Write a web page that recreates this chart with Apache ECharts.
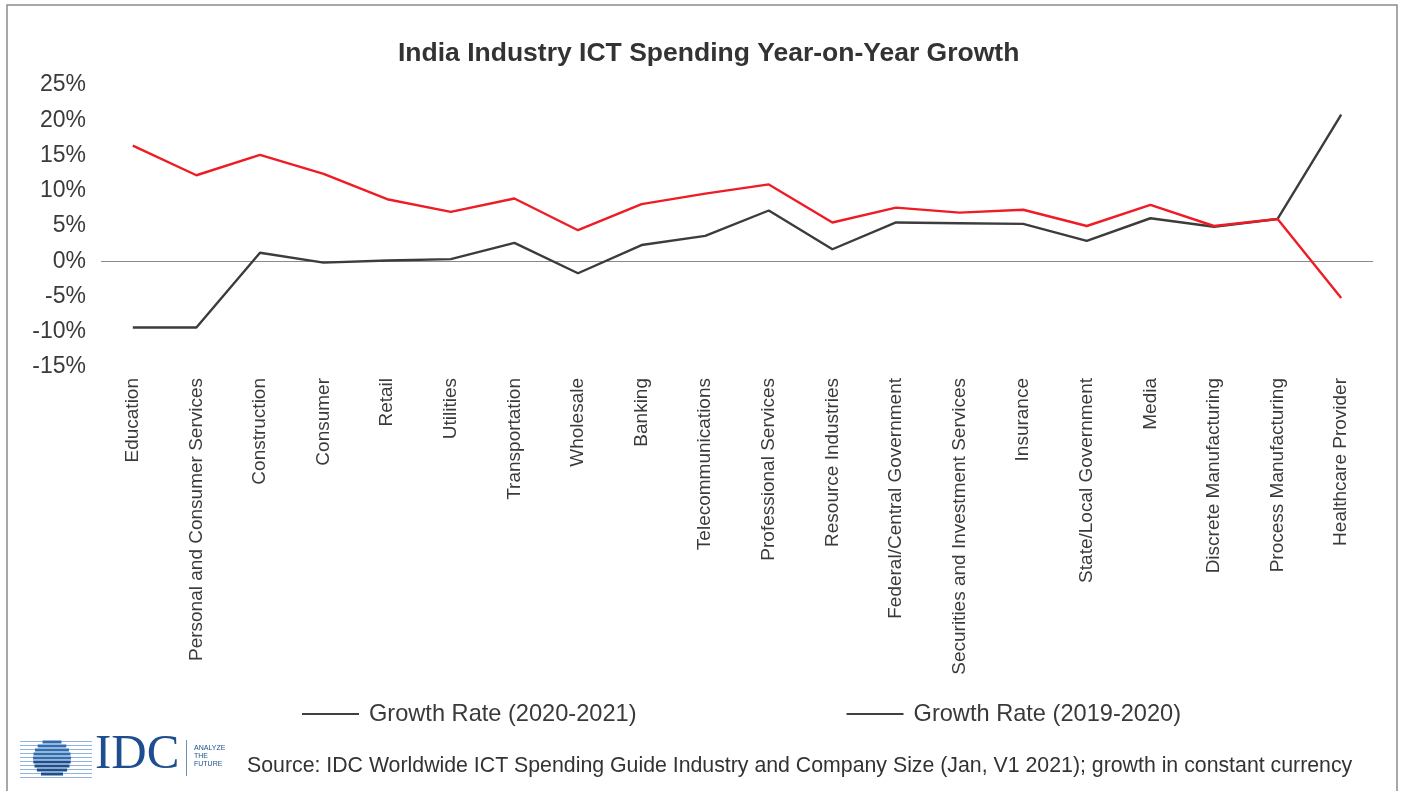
<!DOCTYPE html>
<html>
<head>
<meta charset="utf-8">
<script src="https://cdn.jsdelivr.net/npm/echarts@6/dist/echarts.min.js"></script>
<style>html,body{margin:0;padding:0;background:#fff;}#c{width:1404px;height:791px;}</style>
</head>
<body>
<div id="c"></div>
<script>
const categories = ['Education','Personal and Consumer Services','Construction','Consumer','Retail','Utilities','Transportation','Wholesale','Banking','Telecommunications','Professional Services','Resource Industries','Federal/Central Government','Securities and Investment Services','Insurance','State/Local Government','Media','Discrete Manufacturing','Process Manufacturing','Healthcare Provider'];
const growth2021 = [-9.4,-9.4,1.2,-0.2,0.1,0.3,2.6,-1.7,2.3,3.6,7.2,1.7,5.5,5.4,5.3,2.9,6.1,4.9,6.0,20.8];
const growth2020 = [16.4,12.2,15.1,12.4,8.8,7.0,8.9,4.4,8.1,9.6,10.9,5.5,7.6,6.9,7.3,5.0,8.0,5.0,6.0,-5.2];
const seriesNames = ['Growth Rate (2020-2021)','Growth Rate (2019-2020)'];
const yTicks = {min:-15, max:25, interval:5};
const titleText = 'India Industry ICT Spending Year-on-Year Growth';
const sourceText = 'Source: IDC Worldwide ICT Spending Guide Industry and Company Size (Jan, V1 2021); growth in constant currency';

const chart = echarts.init(document.getElementById('c'));
const txt = '#3a3a3a';
const font = 'Liberation Sans, Arial, Helvetica, sans-serif';

// IDC logo pieces
const logo = [];
const cx = 52, cy = 759, r = 19;
for (let i = 0; i < 10; i++) {
  const y = 741 + i * 4;
  logo.push({type:'rect', shape:{x:20, y:y, width:72, height:1}, style:{fill:'#8fb3d9'}, silent:true});
  const dy = y + 1.5 - cy;
  if (Math.abs(dy) < r) {
    const hw = Math.sqrt(r*r - dy*dy);
    logo.push({type:'rect', shape:{x:cx-hw, y:y-0.5, width:2*hw, height:3}, style:{fill: i < 5 ? '#2f6db0' : '#1c4f8f'}, silent:true});
  }
}
logo.push({type:'text', left:95, top:731, style:{text:'IDC', font:'49px "Liberation Serif", "DejaVu Serif", serif', fill:'#1d4e8f'}, silent:true});
logo.push({type:'rect', shape:{x:186, y:740, width:1, height:36}, style:{fill:'#6e8fb8'}, silent:true});
logo.push({type:'text', left:194, top:744, style:{text:'ANALYZE\nTHE\nFUTURE', font:'7px "Liberation Sans", sans-serif', lineHeight:8, fill:'#1d4e8f'}, silent:true});

chart.setOption({
  backgroundColor:'#fff',
  animation:false,
  title:{text:titleText, left:393, top:35, textStyle:{fontFamily:font, fontSize:26.5, fontWeight:'bold', color:'#333'}},
  legend:{
    left:297, top:696, itemWidth:57, itemHeight:2, itemGap:210,
    textStyle:{fontFamily:font, fontSize:23.6, color:txt, padding:[0,0,0,5], lineHeight:26},
    data:[
      {name:seriesNames[0], icon:'rect', itemStyle:{color:'#404040'}},
      {name:seriesNames[1], icon:'rect', itemStyle:{color:'#404040'}}
    ]
  },
  grid:{left:101, right:31, top:85, bottom:424},
  xAxis:{
    type:'category', data:categories, boundaryGap:true,
    axisLine:{show:false}, axisTick:{show:false}, splitLine:{show:false},
    axisLabel:{rotate:90, margin:11, interval:0, fontFamily:font, fontSize:19, color:txt}
  },
  yAxis:{
    type:'value', min:yTicks.min, max:yTicks.max, interval:yTicks.interval,
    axisLine:{show:false}, axisTick:{show:false}, splitLine:{show:false},
    axisLabel:{formatter:'{value}%', margin:15, fontFamily:font, fontSize:23, color:txt}
  },
  series:[
    {name:seriesNames[0], type:'line', data:growth2021, symbol:'none', z:2,
     lineStyle:{color:'#3c3c3c', width:2.4}, itemStyle:{color:'#3c3c3c'},
     markLine:{silent:true, symbol:'none', label:{show:false}, lineStyle:{color:'#8a8a8a', width:1.2, type:'solid'}, data:[{yAxis:0}], z:1}},
    {name:seriesNames[1], type:'line', data:growth2020, symbol:'none', z:3,
     lineStyle:{color:'#ee1c25', width:2.4}, itemStyle:{color:'#ee1c25'}}
  ],
  graphic:[
    {type:'rect', shape:{x:7, y:5, width:1390, height:800}, style:{fill:'none', stroke:'#8c8c8c', lineWidth:1.5}, silent:true, z:-1},
    ...logo,
    {type:'text', left:247, top:756, style:{text:sourceText, font:'21.3px "Liberation Sans", Arial, sans-serif', fill:'#333'}, silent:true}
  ]
});
</script>
</body>
</html>
